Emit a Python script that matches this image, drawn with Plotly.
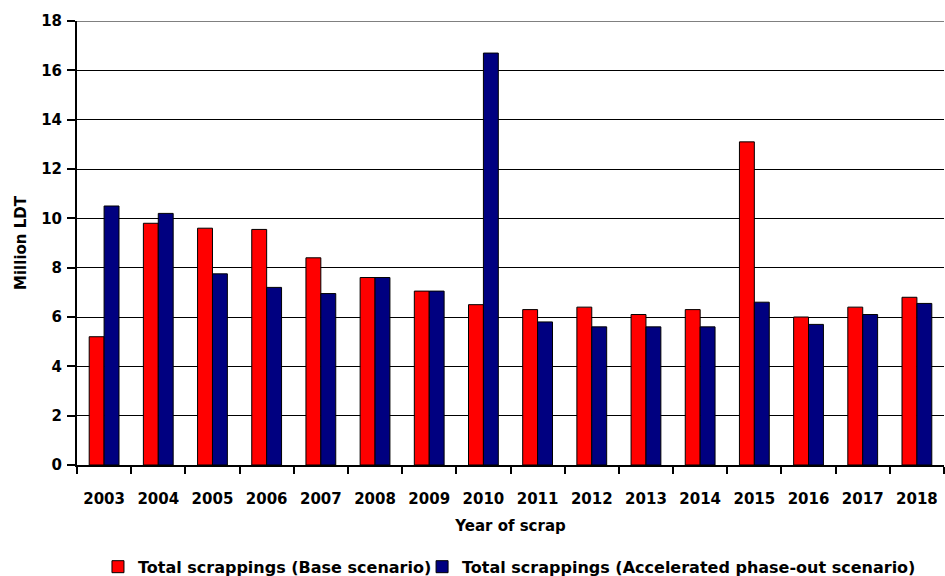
import plotly.graph_objects as go

# Scrapping volumes per year, million light displacement tonnes
years = ["2003", "2004", "2005", "2006", "2007", "2008", "2009", "2010",
         "2011", "2012", "2013", "2014", "2015", "2016", "2017", "2018"]
base_scenario = [5.2, 9.8, 9.6, 9.55, 8.4, 7.6, 7.05, 6.5,
                 6.3, 6.4, 6.1, 6.3, 13.1, 6.0, 6.4, 6.8]
accelerated_scenario = [10.5, 10.2, 7.75, 7.2, 6.95, 7.6, 7.05, 16.7,
                        5.8, 5.6, 5.6, 5.6, 6.6, 5.7, 6.1, 6.55]
y_ticks = [0, 2, 4, 6, 8, 10, 12, 14, 16, 18]

FONT = "DejaVu Sans"
BOLD = dict(family=FONT, size=15, color="#000000", weight="bold")
LEGEND_FONT = dict(family=FONT, size=16, color="#000000", weight="bold")

fig = go.Figure()
fig.add_trace(go.Bar(
    x=years, y=base_scenario,
    name="Total scrappings (Base scenario)",
    marker=dict(color="#FF0000", line=dict(color="#000000", width=1)),
    legend="legend",
))
fig.add_trace(go.Bar(
    x=years, y=accelerated_scenario,
    name="Total scrappings (Accelerated phase-out scenario)",
    marker=dict(color="#000080", line=dict(color="#000000", width=1)),
    legend="legend2",
))

# one legend box per series so the two entries sit close together
legend_common = dict(
    orientation="h", xref="paper", xanchor="left",
    yref="container", y=0.016, yanchor="middle",
    font=LEGEND_FONT, itemwidth=30, tracegroupgap=0,
    bgcolor="rgba(0,0,0,0)",
)

fig.update_layout(
    width=945, height=576,
    margin=dict(l=77, r=1, t=21, b=111, autoexpand=False),
    paper_bgcolor="white", plot_bgcolor="white",
    font=BOLD,
    barmode="group", bargap=0.45, bargroupgap=0,
    showlegend=True,
    legend=dict(legend_common, x=0.0242),
    legend2=dict(legend_common, x=0.398),
    xaxis=dict(
        type="category", automargin=False,
        showline=True, linecolor="#000000", linewidth=2,
        ticks="outside", tickson="boundaries", ticklen=7, tickwidth=2,
        tickcolor="#000000", ticklabelstandoff=19,
        showgrid=False,
        tickfont=BOLD,
        title=dict(text="Year of scrap", standoff=13, font=BOLD),
    ),
    yaxis=dict(
        range=[0, 18], tickvals=y_ticks, automargin=False,
        showline=True, linecolor="#000000", linewidth=2,
        ticks="outside", ticklen=8, tickwidth=2, tickcolor="#000000",
        ticklabelstandoff=2,
        showgrid=True, gridcolor="#000000", gridwidth=1,
        zeroline=False,
        tickfont=BOLD,
        title=dict(text="Million LDT", standoff=11, font=BOLD),
    ),
    shapes=[
        # grey frame line across the top of the plot area
        dict(type="line", xref="paper", yref="y", x0=0, x1=1, y0=18, y1=18,
             line=dict(color="#808080", width=2), layer="above"),
    ],
)

fig.write_html("out.html")
